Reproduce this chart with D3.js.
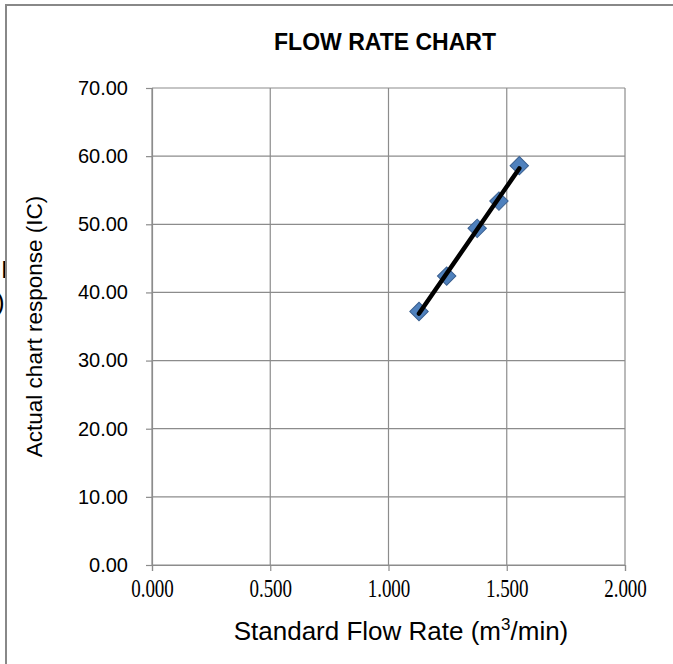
<!DOCTYPE html>
<html>
<head>
<meta charset="utf-8">
<script src="https://cdn.jsdelivr.net/npm/d3@7"></script>
<style>
  body { margin: 0; background: #fff; }
  svg { display: block; }
</style>
</head>
<body>
<div id="chart"></div>
<script>
// data
const flowRate = [1.129, 1.246, 1.375, 1.467, 1.553]
const response = [37.2, 42.4, 49.4, 53.4, 58.6]
const xTicks = [0, 0.5, 1.0, 1.5, 2.0]
const yTicks = [0, 10, 20, 30, 40, 50, 60, 70]

const chartTitle = "FLOW RATE CHART"
const xTitle = "Standard Flow Rate (m"
const yTitle = "Actual chart response (IC)"

// sizes
const width = 673
const height = 664
const plot = { left: 152, right: 625, top: 88, bottom: 565 }

const svg = d3.select("#chart").append("svg")
    .attr("width", width).attr("height", height)

svg.append("rect").attr("width", width).attr("height", height).attr("fill", "#fff")

// stray bits of text sticking out on the left
svg.append("text").attr("x", 1).attr("y", 278)
    .attr("font-family", "Liberation Sans, Arial").attr("font-size", 24).text("I")
svg.append("text").attr("x", -4).attr("y", 311)
    .attr("font-family", "Liberation Sans, Arial").attr("font-size", 26).text(")")

// frame
svg.append("path")
    .attr("d", `M6,${height} L6,5 L${width},5`)
    .attr("fill", "none").attr("stroke", "#888").attr("stroke-width", 2)

// scales
const x = d3.scaleLinear().domain([0, 2]).range([plot.left, plot.right])
const y = d3.scaleLinear().domain([0, 70]).range([plot.bottom, plot.top])

// grid
const grid = svg.append("g").attr("id", "grid")
grid.selectAll(".hgrid").data(yTicks).enter().append("line")
    .attr("x1", plot.left).attr("x2", plot.right)
    .attr("y1", d => y(d)).attr("y2", d => y(d))
    .attr("stroke", "#8c8c8c").attr("stroke-width", 1.2)
grid.selectAll(".vgrid").data(xTicks).enter().append("line")
    .attr("y1", plot.top).attr("y2", plot.bottom)
    .attr("x1", d => x(d)).attr("x2", d => x(d))
    .attr("stroke", "#8c8c8c").attr("stroke-width", 1.2)

// axes
const xAxis = d3.axisBottom(x).tickValues(xTicks).tickFormat(d3.format(".3f")).tickSize(6)
const yAxis = d3.axisLeft(y).tickValues(yTicks).tickFormat(d3.format(".2f")).tickSize(6).tickPadding(18)

const xAxisGroup = svg.append("g").attr("transform", `translate(0, ${plot.bottom})`).call(xAxis)
const yAxisGroup = svg.append("g").attr("transform", `translate(${plot.left}, 0)`).call(yAxis)

xAxisGroup.selectAll("path, line").attr("stroke", "#8c8c8c").attr("stroke-width", 1.2)
yAxisGroup.selectAll("path, line").attr("stroke", "#8c8c8c").attr("stroke-width", 1.2)
// serif tick labels look stretched tall in the original
xAxisGroup.selectAll("text")
    .attr("font-family", "Liberation Serif, Times New Roman").attr("font-size", 19).attr("fill", "#000")
    .attr("y", 24.6).attr("dy", 0).attr("transform", "scale(1,1.3)")
yAxisGroup.selectAll("text").attr("font-family", "Liberation Sans, Arial").attr("font-size", 20).attr("fill", "#000")

// trend line (least squares through the points)
const n = flowRate.length
const mx = d3.mean(flowRate), my = d3.mean(response)
let sxy = 0, sxx = 0
for (let i = 0; i < n; i++) {
    sxy += (flowRate[i] - mx) * (response[i] - my)
    sxx += (flowRate[i] - mx) * (flowRate[i] - mx)
}
const slope = sxy / sxx
const icpt = my - slope * mx
const xs = d3.extent(flowRate)

// markers
const pts = flowRate.map((v, i) => ({ fx: v, r: response[i] }))
svg.append("g").selectAll("path").data(pts).enter().append("path")
    .attr("d", d3.symbol().type(d3.symbolSquare).size(170))
    .attr("transform", d => `translate(${x(d.fx)}, ${y(d.r)}) rotate(45)`)
    .attr("fill", "#4f81bd").attr("stroke", "#3a5f8f").attr("stroke-width", 1)

svg.append("line")
    .attr("x1", x(xs[0])).attr("y1", y(slope * xs[0] + icpt))
    .attr("x2", x(xs[1])).attr("y2", y(slope * xs[1] + icpt))
    .attr("stroke", "#000").attr("stroke-width", 4.5).attr("stroke-linecap", "round")

// titles
svg.append("text").attr("x", 385).attr("y", 50).attr("text-anchor", "middle")
    .attr("font-family", "Liberation Sans, Arial").attr("font-weight", "bold").attr("font-size", 23)
    .text(chartTitle)

const xt = svg.append("text").attr("x", 401).attr("y", 640).attr("text-anchor", "middle")
    .attr("font-family", "Liberation Sans, Arial").attr("font-size", 26)
xt.append("tspan").text(xTitle)
xt.append("tspan").attr("font-size", 17).attr("dy", -10).text("3")
xt.append("tspan").attr("dy", 10).text("/min)")

svg.append("text").attr("transform", `translate(42, ${(plot.top + plot.bottom) / 2}) rotate(-90)`)
    .attr("text-anchor", "middle")
    .attr("font-family", "Liberation Sans, Arial").attr("font-size", 22.5)
    .text(yTitle)
</script>
</body>
</html>
